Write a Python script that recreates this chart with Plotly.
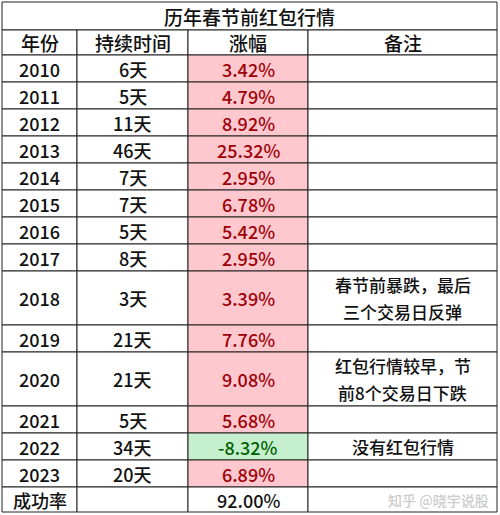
import plotly.graph_objects as go

title = "历年春节前红包行情"
headers = ["年份", "持续时间", "涨幅", "备注"]
years = ["2010","2011","2012","2013","2014","2015","2016","2017","2018","2019","2020","2021","2022","2023"]
durations = ["6天","5天","11天","46天","7天","7天","5天","8天","3天","21天","21天","5天","34天","20天"]
gains = [3.42,4.79,8.92,25.32,2.95,6.78,5.42,2.95,3.39,7.76,9.08,5.68,-8.32,6.89]
notes = [[],[],[],[],[],[],[],[],["春节前暴跌，最后","三个交易日反弹"],[],["红包行情较早，节","前8个交易日下跌"],[],["没有红包行情"],[]]
row_units = [1,1,1,1,1,1,1,1,2,1,2,1,1,1]
footer = ["成功率", "", "92.00%", ""]

W, H = 500, 515
cols = [2, 77, 188, 308, 497]
title_top, title_bot, head_bot = 2, 30, 55
unit = 27.0
FONT = "Noto Sans CJK SC"

shapes, ann = [], []
def cell(x0, x1, y0, y1, fill="white"):
    shapes.append(dict(type="rect", xref="x", yref="y", x0=x0, x1=x1, y0=y0, y1=y1,
                       fillcolor=fill, line=dict(color="#222", width=1), layer="below"))
def text(x, y, t, size=18, color="#111"):
    ann.append(dict(x=x, y=y, xref="x", yref="y", text=t, showarrow=False,
                    font=dict(family=FONT, size=size, color=color, weight=500)))

cell(cols[0], cols[4], title_top, title_bot)
text((cols[0]+cols[4])/2, (title_top+title_bot)/2, title, 19)
for i, h in enumerate(headers):
    cell(cols[i], cols[i+1], title_bot, head_bot)
    text((cols[i]+cols[i+1])/2, (title_bot+head_bot)/2, h, 19)

y = head_bot
for yr, d, g, n, u in zip(years, durations, gains, notes, row_units):
    y1 = y + u*unit
    cy = (y+y1)/2
    pos = g >= 0
    cell(cols[0], cols[1], y, y1); text((cols[0]+cols[1])/2, cy, yr)
    cell(cols[1], cols[2], y, y1); text((cols[1]+cols[2])/2, cy, d)
    cell(cols[2], cols[3], y, y1, "#ffc7ce" if pos else "#c6efce")
    text((cols[2]+cols[3])/2, cy, f"{g:.2f}%", 18, "#9c0006" if pos else "#006100")
    cell(cols[3], cols[4], y, y1)
    k = len(n)
    for j, line in enumerate(n):
        text((cols[3]+cols[4])/2, cy + (j - (k-1)/2)*unit, line, 17)
    y = y1
y1 = H - 3
for i, f in enumerate(footer):
    cell(cols[i], cols[i+1], y, y1)
    if f:
        text((cols[i]+cols[i+1])/2, (y+y1)/2, f, 18)
text(438, (y+y1)/2, "知乎 @晓宇说股", 14, "#cccccc")

fig = go.Figure()
fig.add_trace(go.Scatter(x=[0, W], y=[0, H], mode="markers", marker=dict(opacity=0), hoverinfo="skip"))
fig.update_layout(width=W, height=H, margin=dict(l=0, r=0, t=0, b=0), showlegend=False,
                  plot_bgcolor="white", paper_bgcolor="white", shapes=shapes, annotations=ann,
                  xaxis=dict(range=[0, W], visible=False, fixedrange=True),
                  yaxis=dict(range=[H, 0], visible=False, fixedrange=True))
fig.write_html("out.html", config={"displayModeBar": False},
               post_script="document.body.style.margin='0';document.body.style.overflow='hidden';")
